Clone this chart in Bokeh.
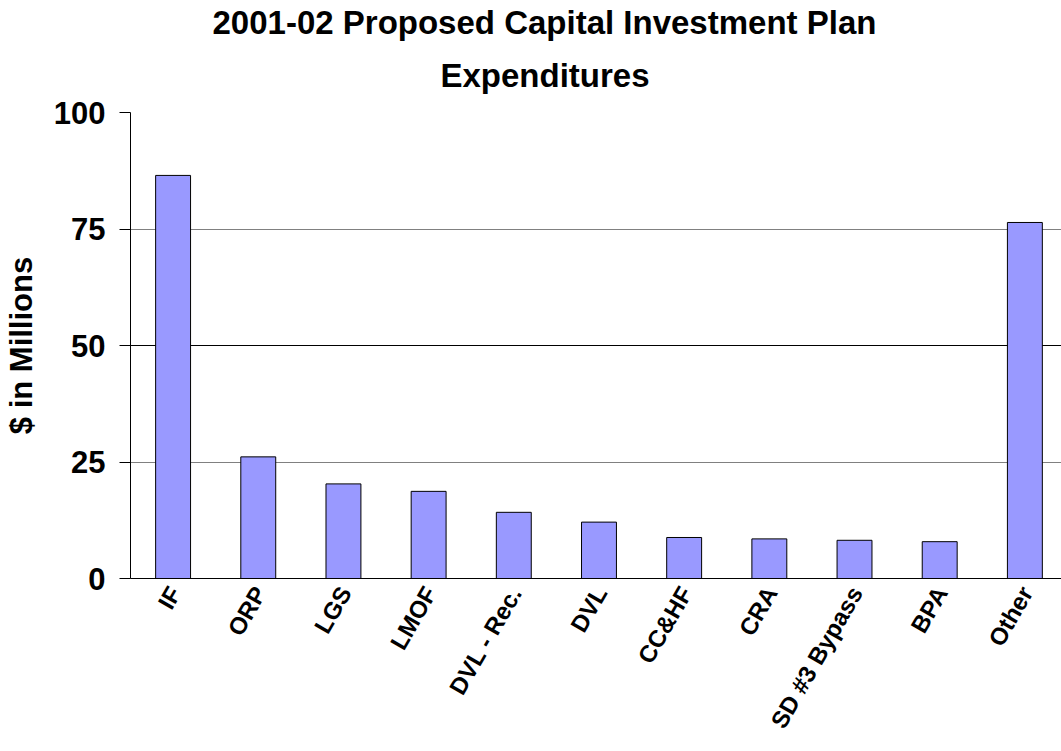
import math
from bokeh.plotting import figure
from bokeh.models import Range1d, FixedTicker, Title, Span, ColumnDataSource
from bokeh.embed import file_html
from bokeh.resources import INLINE

categories = ["IF", "ORP", "LGS", "LMOF", "DVL - Rec.", "DVL", "CC&HF", "CRA",
              "SD #3 Bypass", "BPA", "Other"]
values = [86.5, 26.1, 20.3, 18.7, 14.2, 12.1, 8.8, 8.5, 8.2, 7.9, 76.4]
y_ticks = [0, 25, 50, 75, 100]
title_lines = ["2001-02 Proposed Capital Investment Plan", "Expenditures"]

xs = [i + 0.5 for i in range(len(categories))]
label_pos = [x + 0.02 for x in xs]
src = ColumnDataSource(dict(x=xs, top=values, name=categories))

FONT = "Liberation Sans"

p = figure(width=1061, height=751, output_backend="svg", toolbar_location=None,
           x_range=Range1d(0, 10.93), y_range=Range1d(0, 100),
           min_border_left=130, min_border_right=0, min_border_top=112,
           min_border_bottom=173)
p.outline_line_color = None
p.background_fill_color = "white"

p.ygrid.ticker = FixedTicker(ticks=y_ticks)
p.ygrid.grid_line_color = "#808080"
p.ygrid.grid_line_width = 1
p.add_layout(Span(location=50, dimension="width", line_color="black",
                  line_width=1, level="underlay"))

p.vbar(x="x", top="top", width=0.41, bottom=0, source=src,
       fill_color="#9999FF", line_color="black", line_width=1)

# axes
p.xaxis.ticker = FixedTicker(ticks=label_pos)
p.xaxis.major_label_overrides = {x: c for x, c in zip(label_pos, categories)}
p.xaxis.major_label_orientation = math.radians(60)
p.xaxis.major_label_text_font = FONT
p.xaxis.major_label_text_font_style = "bold"
p.xaxis.major_label_text_font_size = "24px"
p.xaxis.major_label_text_color = "black"
p.xaxis.major_tick_line_color = None
p.xaxis.minor_tick_line_color = None
p.xaxis.axis_line_color = "black"
p.xaxis.major_label_standoff = 4

p.yaxis.ticker = FixedTicker(ticks=y_ticks)
p.yaxis.major_label_text_font = FONT
p.yaxis.major_label_text_font_style = "bold"
p.yaxis.major_label_text_font_size = "31px"
p.yaxis.major_label_text_color = "black"
p.yaxis.major_tick_out = 11
p.yaxis.major_tick_in = 0
p.yaxis.minor_tick_line_color = None
p.yaxis.axis_line_color = "black"
p.yaxis.major_tick_line_color = "black"
p.yaxis.major_label_standoff = 14
p.yaxis.axis_label = "$ in Millions"
p.yaxis.axis_label_text_font = FONT
p.yaxis.axis_label_text_font_style = "bold"
p.yaxis.axis_label_text_font_size = "31px"
p.yaxis.axis_label_text_color = "black"
p.yaxis.axis_label_standoff = 12

p.xgrid.grid_line_color = None

# two-line title
t2 = Title(text=title_lines[1], align="left", text_font=FONT,
           text_font_style="bold", text_font_size="33px", text_color="black",
           offset=310, standoff=38)
t1 = Title(text=title_lines[0], align="left", text_font=FONT,
           text_font_style="bold", text_font_size="33px", text_color="black",
           offset=82, standoff=-10)
p.add_layout(t2, "above")
p.add_layout(t1, "above")

open("out.html", "w").write(file_html(p, INLINE))
